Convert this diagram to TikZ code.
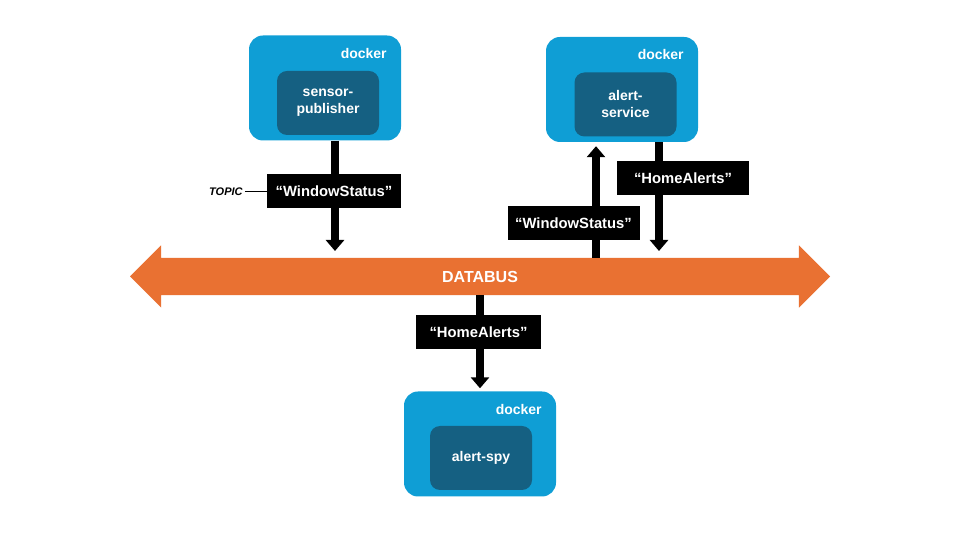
\documentclass[tikz,border=0pt]{standalone}
\usepackage{fontspec}
\setmainfont{Liberation Sans}
\usepackage{tikz}
\usetikzlibrary{shapes, arrows.meta, positioning, calc}
\definecolor{dockblue}{HTML}{0F9ED5}
\definecolor{svcblue}{HTML}{156082}
\definecolor{busorange}{HTML}{E97132}

\begin{document}
\begin{tikzpicture}[x=1pt, y=1pt,
    dock/.style={rectangle, rounded corners=14pt, fill=dockblue, minimum width=152pt, minimum height=105pt},
    svc/.style={rectangle, rounded corners=10pt, fill=svcblue, text=white, align=center, font=\bfseries\fontsize{14}{17}\selectfont, minimum width=102pt, minimum height=64pt},
    dtag/.style={anchor=east, text=white, font=\bfseries\fontsize{14}{16}\selectfont},
    topic/.style={rectangle, fill=black, text=white, font=\bfseries\fontsize{14.8}{17}\selectfont, minimum height=34pt, minimum width=132pt},
    flow/.style={line width=8pt, -{Triangle[width=18pt, length=11pt]}}
  ]
  \useasboundingbox (0,0) rectangle (960,540);

  % databus
  \node[double arrow, fill=busorange, text=white, minimum height=700pt, minimum width=62pt,
        double arrow head extend=12.5pt, double arrow tip angle=90, inner xsep=0pt, inner ysep=12.8pt,
        font=\bfseries\fontsize{16}{18}\selectfont] (bus) at (480,263.5) {DATABUS};
  \coordinate (busN) at ([yshift=25.5pt]bus.center);
  \coordinate (busT) at ([yshift=18.5pt]bus.center);
  \coordinate (busB) at ([yshift=-18.5pt]bus.center);

  % containers
  \node[dock] (dock1) at (325,452) {};
  \node[svc] (pub) at ([xshift=3pt, yshift=-15pt]dock1.center) {sensor-\\publisher};
  \node[dtag] (tag1) at ([xshift=-11pt, yshift=-18pt]dock1.north east) {docker};

  \node[dock] (dock2) at (622,450.5) {};
  \node[svc] (alert) at ([xshift=3.5pt, yshift=-15pt]dock2.center) {alert-\\service};
  \node[dtag] (tag2) at ([xshift=-11pt, yshift=-18pt]dock2.north east) {docker};

  \node[dock] (dock3) at (480,96) {};
  \node[svc] (spy) at ([xshift=1pt, yshift=-14pt]dock3.center) {alert-spy};
  \node[dtag] (tag3) at ([xshift=-11pt, yshift=-18pt]dock3.north east) {docker};

  % flows
  \draw[flow] ([xshift=10pt]dock1.south) -- ([xshift=10pt]dock1.south |- busN);
  \draw[flow] ([xshift=-26pt]dock2.south |- busT) -- ([xshift=-26pt, yshift=-4pt]dock2.south);
  \draw[flow] ([xshift=37pt]dock2.south) -- ([xshift=37pt]dock2.south |- busN);
  \draw[flow] (busB -| dock3.north) -- ([yshift=3pt]dock3.north);

  % topics
  \node[topic, minimum width=134pt] (ws1) at (334,348.5) {“WindowStatus”};
  \node[topic] (ws2) at (573.5,316.5) {“WindowStatus”};
  \node[topic] (ha1) at (683,361.5) {“HomeAlerts”};
  \node[topic, minimum width=125pt] (ha2) at (478.5,207.5) {“HomeAlerts”};

  \node[left=22pt of ws1, inner sep=2pt, font=\bfseries\itshape\fontsize{11}{13}\selectfont] (topicname) {TOPIC};
  \draw[line width=1.5pt] (topicname) -- (ws1);
\end{tikzpicture}
\end{document}
